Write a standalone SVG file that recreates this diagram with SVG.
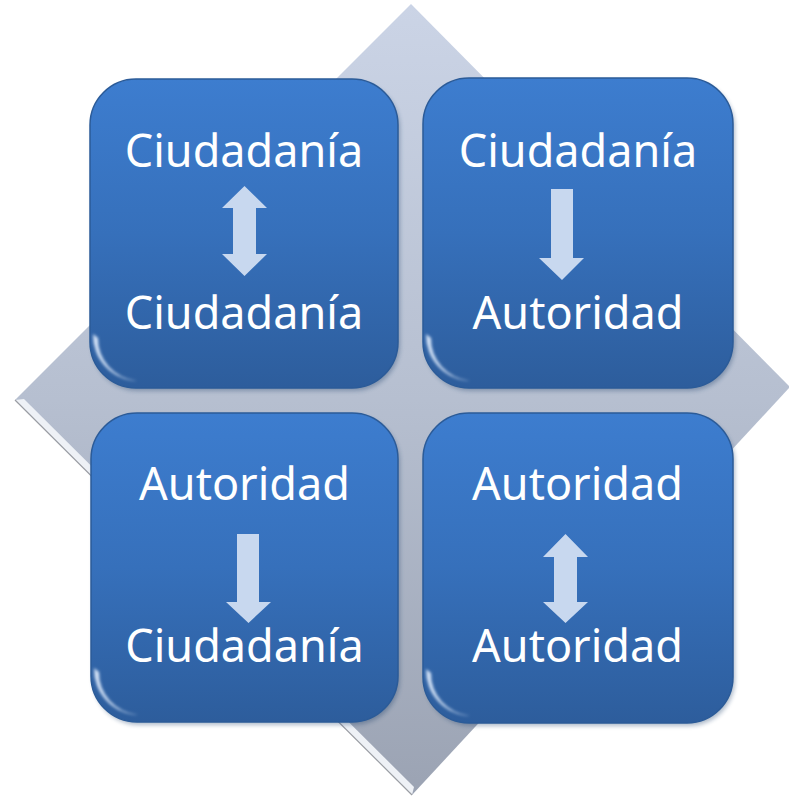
<svg xmlns="http://www.w3.org/2000/svg" width="789" height="796" viewBox="0 0 789 796">
<defs>
<linearGradient id="dg" x1="0" y1="0" x2="0" y2="1">
<stop offset="0" stop-color="#cbd4e6"/>
<stop offset="0.5" stop-color="#b6bfd0"/>
<stop offset="1" stop-color="#9ba3b3"/>
</linearGradient>
<linearGradient id="bg" x1="0" y1="0" x2="0" y2="1">
<stop offset="0" stop-color="#3d7dcf"/>
<stop offset="0.5" stop-color="#3670bb"/>
<stop offset="1" stop-color="#2d5d9c"/>
</linearGradient>
<filter id="blur" x="-10%" y="-10%" width="120%" height="120%"><feGaussianBlur stdDeviation="1.2"/></filter>
<filter id="sblur" x="-30%" y="-30%" width="160%" height="160%"><feGaussianBlur stdDeviation="1.5"/></filter>
<filter id="sh" x="-10%" y="-10%" width="120%" height="120%"><feGaussianBlur stdDeviation="2"/></filter>
<path id="crescent" d="M0,-14 A46,46 0 0 0 44,33 A44,42 0 0 1 5,-10 Z"/>
</defs>
<style>
.box{fill:url(#bg);stroke:#2b5b98;stroke-width:1.5}
.shade{fill:#1f3f6b;opacity:0.35}
.hl{fill:none;stroke:#ffffff;stroke-opacity:0.45;stroke-width:3}
.hr{fill:none;stroke:#9cc4f0;stroke-opacity:0.8;stroke-width:2}
.spec{fill:#e6f1ff;fill-opacity:0.9}
.lbl{font-family:"Noto Sans","Open Sans","Liberation Sans",sans-serif;font-size:45px;fill:#ffffff;text-anchor:middle}
.arr{fill:#c8d8ef}
</style>
<g id="diamond">
<polygon points="411,4 790,387 412,795 15,400" fill="url(#dg)"/>
<polygon points="15,400 412,795 414,787 24,399" fill="#eef1f6"/>
<polyline points="15,400 412,795" fill="none" stroke="#9a9da3" stroke-width="1.2"/>
</g>
<g id="node-tl">
<rect class="shade" x="92" y="82" width="308" height="309" rx="46" filter="url(#sh)"/>
<rect class="box" x="90" y="79" width="308" height="309" rx="46"/>
<path class="hl" d="M130,86 H358" filter="url(#blur)"/>
<path class="hr" d="M394,125 V345" filter="url(#blur)"/>
<use href="#crescent" class="spec" x="93" y="348" filter="url(#sblur)"/>
<text class="lbl" x="244" y="167">Ciudadanía</text>
<text class="lbl" x="244" y="329">Ciudadanía</text>
</g>
<g id="node-tr">
<rect class="shade" x="425" y="81" width="310" height="310" rx="46" filter="url(#sh)"/>
<rect class="box" x="423" y="78" width="310" height="310" rx="46"/>
<path class="hl" d="M463,85 H693" filter="url(#blur)"/>
<path class="hr" d="M729,124 V344" filter="url(#blur)"/>
<use href="#crescent" class="spec" x="426" y="348" filter="url(#sblur)"/>
<text class="lbl" x="578" y="167">Ciudadanía</text>
<text class="lbl" x="578" y="329">Autoridad</text>
</g>
<g id="node-bl">
<rect class="shade" x="93" y="416" width="307" height="309" rx="46" filter="url(#sh)"/>
<rect class="box" x="91" y="413" width="307" height="309" rx="46"/>
<path class="hl" d="M131,420 H358" filter="url(#blur)"/>
<path class="hr" d="M394,459 V679" filter="url(#blur)"/>
<use href="#crescent" class="spec" x="94" y="682" filter="url(#sblur)"/>
<text class="lbl" x="244.5" y="500">Autoridad</text>
<text class="lbl" x="244.5" y="662">Ciudadanía</text>
</g>
<g id="node-br">
<rect class="shade" x="425" y="416" width="310" height="310" rx="46" filter="url(#sh)"/>
<rect class="box" x="423" y="413" width="310" height="310" rx="46"/>
<path class="hl" d="M463,420 H693" filter="url(#blur)"/>
<path class="hr" d="M729,459 V679" filter="url(#blur)"/>
<use href="#crescent" class="spec" x="426" y="683" filter="url(#sblur)"/>
<text class="lbl" x="577.5" y="500">Autoridad</text>
<text class="lbl" x="577.5" y="662">Autoridad</text>
</g>
<g id="connectors">
<polygon class="arr" points="244.5,186 267,208 256,208 256,254 267,254 244.5,276 222,254 233,254 233,208 222,208"/>
<polygon class="arr" points="551,189 573,189 573,258 584,258 562,280 539,258 551,258"/>
<polygon class="arr" points="237,534 259,534 259,602 271,602 248.5,623 226,602 237,602"/>
<polygon class="arr" points="565.5,534 588,557 577,557 577,602 588,602 565.5,623 543,602 554,602 554,557 543,557"/>
</g>
</svg>
